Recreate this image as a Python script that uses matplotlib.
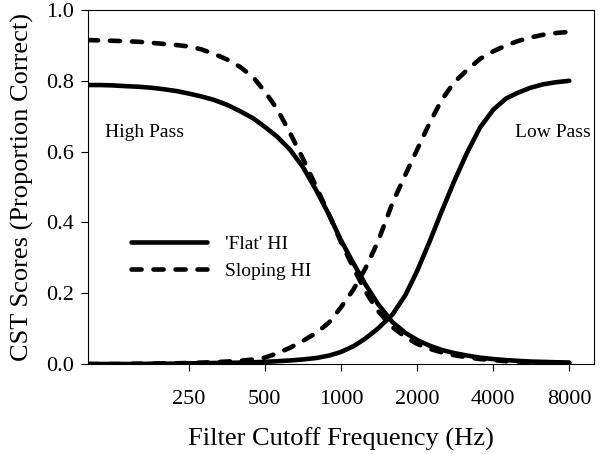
import matplotlib
matplotlib.use("Agg")
import matplotlib.pyplot as plt

plt.rcParams['font.family'] = ['Liberation Serif', 'DejaVu Serif']

# 1/6-octave cutoff frequencies (Hz)
freqs = [100, 112, 125, 140, 160, 180, 200, 224, 250, 280, 315, 355, 400, 450,
         500, 560, 630, 710, 800, 900, 1000, 1120, 1250, 1400, 1600, 1800, 2000,
         2240, 2500, 2800, 3150, 3550, 4000, 4500, 5000, 5600, 6300, 7100, 8000]

# high pass conditions
hp_flat = [0.788, 0.788, 0.787, 0.785, 0.783, 0.780, 0.776, 0.771, 0.764, 0.756,
           0.746, 0.732, 0.714, 0.694, 0.670, 0.642, 0.605, 0.555, 0.490, 0.420,
           0.350, 0.285, 0.225, 0.170, 0.118, 0.088, 0.068, 0.052, 0.040, 0.031,
           0.024, 0.018, 0.014, 0.011, 0.009, 0.007, 0.006, 0.005, 0.004]
hp_sloping = [0.915, 0.914, 0.913, 0.912, 0.910, 0.907, 0.904, 0.901, 0.897, 0.889,
              0.876, 0.860, 0.839, 0.810, 0.770, 0.720, 0.652, 0.578, 0.500, 0.420,
              0.345, 0.272, 0.205, 0.150, 0.104, 0.076, 0.057, 0.043, 0.033, 0.025,
              0.019, 0.014, 0.011, 0.008, 0.007, 0.005, 0.004, 0.003, 0.003]

# low pass conditions
lp_flat = [0.000, 0.000, 0.000, 0.000, 0.000, 0.001, 0.001, 0.001, 0.002, 0.002,
           0.003, 0.003, 0.004, 0.005, 0.006, 0.008, 0.010, 0.013, 0.017, 0.024,
           0.034, 0.050, 0.072, 0.100, 0.140, 0.195, 0.262, 0.345, 0.430, 0.515,
           0.596, 0.668, 0.718, 0.750, 0.766, 0.780, 0.790, 0.796, 0.800]
lp_sloping = [0.000, 0.000, 0.000, 0.000, 0.001, 0.001, 0.002, 0.002, 0.003, 0.004,
              0.005, 0.007, 0.009, 0.013, 0.018, 0.030, 0.046, 0.066, 0.088, 0.118,
              0.160, 0.210, 0.270, 0.345, 0.455, 0.535, 0.605, 0.680, 0.745, 0.795,
              0.830, 0.862, 0.883, 0.900, 0.912, 0.922, 0.930, 0.935, 0.938]

xticks = [250, 500, 1000, 2000, 4000, 8000]
yticks = [0.0, 0.2, 0.4, 0.6, 0.8, 1.0]

fig = plt.figure(figsize=(6.01, 4.54), dpi=100)
ax = fig.add_axes([0.1464, 0.1982, 0.8416, 0.7798])

lw = 3.3
dash = (2.2, 2.6)
ax.plot(freqs, hp_flat, color='black', lw=lw, solid_capstyle='round', label="'Flat' HI")
ax.plot(freqs, hp_sloping, color='black', lw=lw, dashes=dash, dash_capstyle='round',
        label='Sloping HI')
ax.plot(freqs, lp_flat, color='black', lw=lw, solid_capstyle='round')
ax.plot(freqs, lp_sloping, color='black', lw=lw, dashes=dash, dash_capstyle='round')

ax.set_xscale('log')
ax.set_xlim(100, 10000)
ax.set_ylim(0, 1.0)
ax.set_xticks(xticks)
ax.set_xticklabels([str(t) for t in xticks])
ax.minorticks_off()
ax.set_yticks(yticks)
ax.set_yticklabels(['%.1f' % t for t in yticks])
ax.tick_params(axis='x', direction='out', length=5, pad=14, labelsize=16)
ax.tick_params(axis='y', direction='out', length=5, pad=5, labelsize=16)

ax.set_xlabel('Filter Cutoff Frequency (Hz)', fontsize=19, labelpad=13)
ax.set_ylabel('CST Scores (Proportion Correct)', fontsize=19, labelpad=9)

ax.text(117, 0.655, 'High Pass', fontsize=14, ha='left', va='center')
ax.text(9750, 0.655, 'Low Pass', fontsize=14, ha='right', va='center')

ax.legend(loc='center left', bbox_to_anchor=(0.085, 0.30), frameon=False,
          fontsize=14, handlelength=3.9, handletextpad=0.95, borderpad=0,
          borderaxespad=0, labelspacing=0.5)

fig.savefig('out.png', dpi=100)
